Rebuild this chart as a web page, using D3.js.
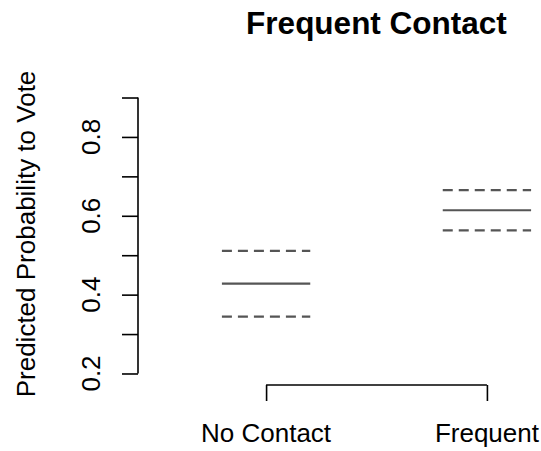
<!DOCTYPE html>
<html>
<head>
<meta charset="utf-8">
<script src="https://cdn.jsdelivr.net/npm/d3@7"></script>
<style>
  html, body { margin: 0; padding: 0; background: #fff; }
  svg { display: block; font-family: "Liberation Sans", Arial, Helvetica, sans-serif; }
</style>
</head>
<body>
<svg id="chart" width="541" height="451"></svg>
<script>
// ---- data ----
const categories = ["No Contact", "Frequent"];
const catPositions = [1, 2];
const estimates = [0.428, 0.614];
const upperBounds = [0.511, 0.665];
const lowerBounds = [0.344, 0.563];
const yTicks = [0.2, 0.3, 0.4, 0.5, 0.6, 0.7, 0.8, 0.9];
const yTickLabels = ["0.2", "", "0.4", "", "0.6", "", "0.8", ""];
const title = "Frequent Contact";
const yTitle = "Predicted Probability to Vote";
const halfWidth = 0.2;

// ---- layout ----
const svg = d3.select("#chart");
const plot = { left: 138, right: 615, top: 83, bottom: 385 };
const x = d3.scaleLinear().domain([0.42, 2.58]).range([plot.left, plot.right]);
const y = d3.scaleLinear().domain([0.1708, 0.9368]).range([plot.bottom, plot.top]);
const tickLen = 16;
const fontSize = 26;

// title
svg.append("text")
  .attr("x", (plot.left + plot.right) / 2)
  .attr("y", 34)
  .attr("text-anchor", "middle")
  .attr("font-weight", "bold")
  .attr("font-size", 31.5)
  .attr("fill", "#000")
  .text(title);

// y axis
const yAxisG = svg.append("g")
  .attr("transform", `translate(${plot.left},0)`)
  .call(d3.axisLeft(y).tickValues(yTicks).tickSize(tickLen).tickSizeOuter(0).tickFormat(""));
yAxisG.select(".domain").remove();
yAxisG.append("line")
  .attr("x1", 0).attr("x2", 0)
  .attr("y1", y(d3.min(yTicks))).attr("y2", y(d3.max(yTicks)))
  .attr("stroke", "#000").attr("stroke-width", 1.6);
yAxisG.selectAll(".tick line").attr("stroke", "#000").attr("stroke-width", 1.6);

// y tick labels (rotated)
svg.append("g").selectAll("text")
  .data(yTicks.map((v, i) => ({ v, label: yTickLabels[i] })).filter(d => d.label !== ""))
  .join("text")
  .attr("transform", d => `translate(100,${y(d.v)}) rotate(-90)`)
  .attr("text-anchor", "middle")
  .attr("font-size", fontSize)
  .attr("fill", "#000")
  .text(d => d.label);

// y title
svg.append("text")
  .attr("transform", `translate(34.5,${(plot.top + plot.bottom) / 2}) rotate(-90)`)
  .attr("text-anchor", "middle")
  .attr("font-size", fontSize)
  .attr("fill", "#000")
  .text(yTitle);

// x axis (bracket)
const xAxisG = svg.append("g")
  .attr("transform", `translate(0,${plot.bottom})`)
  .call(d3.axisBottom(x).tickValues(catPositions).tickSize(tickLen).tickSizeOuter(0).tickFormat(""));
xAxisG.select(".domain").remove();
xAxisG.append("line")
  .attr("x1", x(d3.min(catPositions))).attr("x2", x(d3.max(catPositions)))
  .attr("y1", 0).attr("y2", 0)
  .attr("stroke", "#000").attr("stroke-width", 1.6);
xAxisG.selectAll(".tick line").attr("stroke", "#000").attr("stroke-width", 1.6);

// x tick labels
svg.append("g").selectAll("text")
  .data(categories)
  .join("text")
  .attr("x", (d, i) => x(catPositions[i]))
  .attr("y", 441.5)
  .attr("text-anchor", "middle")
  .attr("font-size", fontSize)
  .attr("fill", "#000")
  .text(d => d);

// estimate segments
const segs = svg.append("g");
const lineColor = "#555";
segs.selectAll("line.est")
  .data(estimates)
  .join("line")
  .attr("class", "est")
  .attr("x1", (d, i) => x(catPositions[i] - halfWidth))
  .attr("x2", (d, i) => x(catPositions[i] + halfWidth))
  .attr("y1", d => y(d)).attr("y2", d => y(d))
  .attr("stroke", lineColor).attr("stroke-width", 2.2);

[upperBounds, lowerBounds].forEach((arr, k) => {
  segs.selectAll("line.ci" + k)
    .data(arr)
    .join("line")
    .attr("class", "ci" + k)
    .attr("x1", (d, i) => x(catPositions[i] - halfWidth))
    .attr("x2", (d, i) => x(catPositions[i] + halfWidth))
    .attr("y1", d => y(d)).attr("y2", d => y(d))
    .attr("stroke", lineColor).attr("stroke-width", 2.2)
    .attr("stroke-dasharray", "10,6");
});
</script>
</body>
</html>
